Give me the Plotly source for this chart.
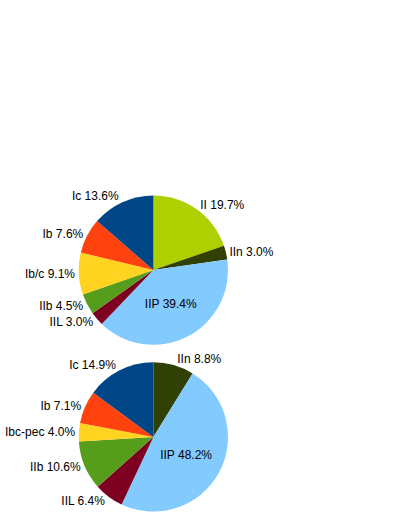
import plotly.graph_objects as go

# top pie
top_labels = ["II", "IIn", "IIP", "IIL", "IIb", "Ib/c", "Ib", "Ic"]
top_values = [19.7, 3.0, 39.4, 3.0, 4.5, 9.1, 7.6, 13.6]
top_colors = ["#aecf00", "#314004", "#83caff", "#7e0021", "#579d1c", "#ffd320", "#ff420e", "#004586"]

# bottom pie
bot_labels = ["IIn", "IIP", "IIL", "IIb", "Ibc-pec", "Ib", "Ic"]
bot_values = [8.8, 48.2, 6.4, 10.6, 4.0, 7.1, 14.9]
bot_colors = ["#314004", "#83caff", "#7e0021", "#579d1c", "#ffd320", "#ff420e", "#004586"]


def make_pie(labels, values, colors, ydom):
    return go.Pie(
        labels=labels,
        values=values,
        sort=False,
        direction="clockwise",
        rotation=0,
        marker=dict(colors=colors, line=dict(width=0)),
        texttemplate="%{label} %{value:.1f}%",
        textposition=["inside" if l == "IIP" else "outside" for l in labels],
        textfont=dict(family="Liberation Sans, Arial, sans-serif", size=12, color="black"),
        insidetextorientation="horizontal",
        domain=dict(x=[0.166, 0.543], y=ydom),
        showlegend=False,
        hoverinfo="label+value",
    )


fig = go.Figure()
fig.add_trace(make_pie(top_labels, top_values, top_colors, [0.344, 0.635]))
fig.add_trace(make_pie(bot_labels, bot_values, bot_colors, [0.0285, 0.3196]))

fig.update_layout(
    width=409,
    height=529,
    margin=dict(l=0, r=0, t=0, b=0),
    paper_bgcolor="white",
    uniformtext=dict(minsize=12, mode="show"),
)

# drop the default page margin so the figure sits at the window corner
fig.write_html("out.html", config={"displayModeBar": False},
               post_script="document.body.style.margin = '0';")
